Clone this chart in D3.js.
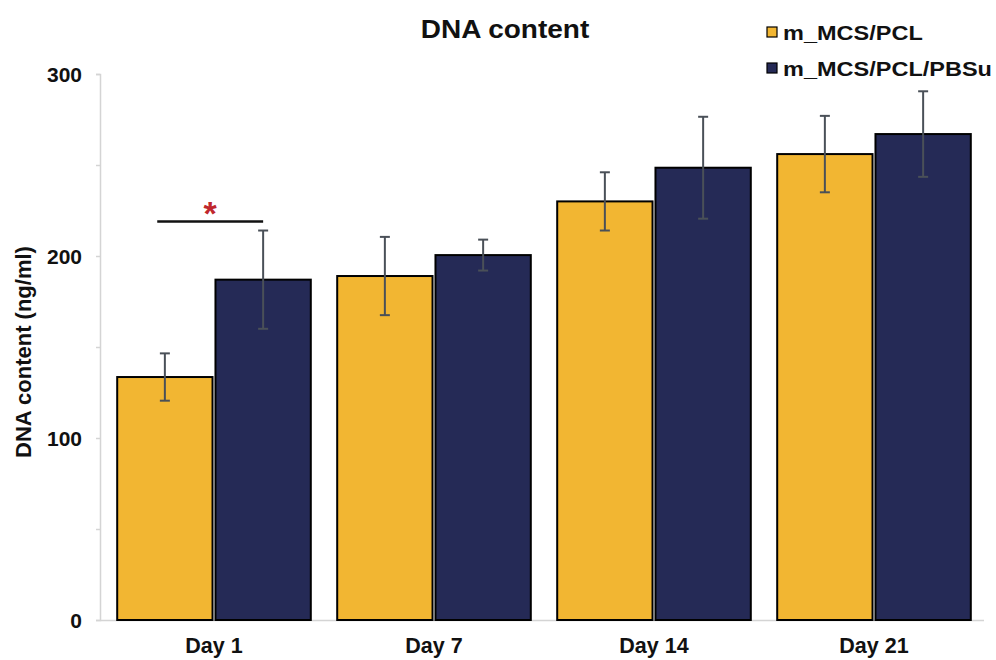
<!DOCTYPE html>
<html><head><meta charset="utf-8">
<script src="https://cdn.jsdelivr.net/npm/d3@7"></script>
<style>body{margin:0;background:#fff}svg{display:block;font-family:"Liberation Sans",Arial,sans-serif}</style>
</head><body>
<svg id="chart" width="996" height="660"></svg>
<script>
const categories = ["Day 1", "Day 7", "Day 14", "Day 21"];
const seriesNames = ["m_MCS/PCL", "m_MCS/PCL/PBSu"];
const pclValues = [133.5, 189, 230, 256];
const pclErrors = [13, 21.5, 16, 21];
const pbsuValues = [187, 200.5, 248.5, 267];
const pbsuErrors = [27, 8.5, 28, 23.5];
const yTicks = [0, 100, 200, 300];
const yMinorTicks = [50, 150, 250];
const colors = ["#F2B632", "#252A56"];

const svg = d3.select("#chart");
const y = d3.scaleLinear().domain([0, 300]).range([620, 74]);
const x0 = d3.scaleBand().domain(categories).range([104, 984]).paddingInner(0.12).paddingOuter(0.06);
const x1 = d3.scaleBand().domain(seriesNames).range([0, x0.bandwidth()]).paddingInner(0.03);

const series = [
  {name: seriesNames[0], values: pclValues, errors: pclErrors, color: colors[0]},
  {name: seriesNames[1], values: pbsuValues, errors: pbsuErrors, color: colors[1]}
];

// axes
const yAxis = d3.axisLeft(y).tickValues(yTicks).tickSize(4).tickFormat(d3.format("d"));
const gy = svg.append("g").attr("transform", "translate(100,0)").call(yAxis);
gy.select(".domain").attr("stroke", "#d4d4d4").attr("stroke-width", 1.5);
gy.selectAll(".tick line").attr("stroke", "#d4d4d4").attr("stroke-width", 1.5);
gy.selectAll(".tick text").attr("font-size", 21).attr("font-weight", "bold").attr("fill", "#111").attr("x", -18).attr("dy", "0.36em");
const gyMinor = svg.append("g").attr("transform", "translate(100,0)")
  .call(d3.axisLeft(y).tickValues(yMinorTicks).tickSize(4).tickFormat(""));
gyMinor.select(".domain").remove();
gyMinor.selectAll(".tick line").attr("stroke", "#d4d4d4").attr("stroke-width", 1.5);

const xAxis = d3.axisBottom(x0).tickSize(0);
const gx = svg.append("g").attr("transform", "translate(0,620)").call(xAxis);
gx.select(".domain").attr("stroke", "#d4d4d4").attr("stroke-width", 1.5).attr("d", "M100,0.5H984");
gx.selectAll(".tick text").attr("font-size", 21.5).attr("font-weight", "bold").attr("fill", "#111")
  .attr("y", 33).attr("dy", null);

// bars
series.forEach(s => {
  const g = svg.append("g");
  g.selectAll("rect").data(categories).join("rect")
    .attr("x", d => x0(d) + x1(s.name))
    .attr("y", (d, i) => y(s.values[i]))
    .attr("width", x1.bandwidth())
    .attr("height", (d, i) => y(0) - y(s.values[i]))
    .attr("fill", s.color).attr("stroke", "#000").attr("stroke-width", 2);
});
// error bars
series.forEach(s => {
  const g = svg.append("g").attr("stroke", "#4a5058").attr("stroke-width", 2);
  categories.forEach((c, i) => {
    const cx = x0(c) + x1(s.name) + x1.bandwidth() / 2;
    const hi = y(s.values[i] + s.errors[i]), lo = y(s.values[i] - s.errors[i]);
    g.append("line").attr("x1", cx).attr("x2", cx).attr("y1", hi).attr("y2", lo);
    g.append("line").attr("x1", cx - 5).attr("x2", cx + 5).attr("y1", hi).attr("y2", hi);
    g.append("line").attr("x1", cx - 5).attr("x2", cx + 5).attr("y1", lo).attr("y2", lo);
  });
});

// significance
const sigY = y(219);
const sx1 = x0("Day 1") + x1.bandwidth() * 0.42;
const sx2 = x0("Day 1") + x1(seriesNames[1]) + x1.bandwidth() * 0.5;
svg.append("line").attr("x1", sx1).attr("x2", sx2).attr("y1", sigY).attr("y2", sigY)
  .attr("stroke", "#111").attr("stroke-width", 2.5);
svg.append("text").attr("x", (sx1 + sx2) / 2).attr("y", sigY + 4).attr("text-anchor", "middle")
  .attr("font-size", 34).attr("font-weight", "bold").attr("fill", "#C0272D").text("*");

// title
svg.append("text").attr("transform", "translate(505,38) scale(1.12,1)").attr("text-anchor", "middle")
  .attr("font-size", 25).attr("font-weight", "bold").attr("fill", "#111").text("DNA content");

// y label
svg.append("text").attr("transform", "translate(31,352) rotate(-90)").attr("text-anchor", "middle")
  .attr("font-size", 22).attr("font-weight", "bold").attr("fill", "#111").text("DNA content (ng/ml)");

// legend
const lg = svg.append("g");
series.forEach((s, i) => {
  const ly = 32 + i * 36;
  lg.append("rect").attr("x", 767).attr("y", ly - 5).attr("width", 10).attr("height", 10)
    .attr("fill", s.color).attr("stroke", "#000").attr("stroke-width", 1.2);
  lg.append("text").attr("transform", `translate(783,${ly}) scale(1.12,1)`).attr("dy", "0.36em")
    .attr("font-size", 21).attr("font-weight", "bold").attr("fill", "#111").text(s.name);
});
</script>
</body></html>
